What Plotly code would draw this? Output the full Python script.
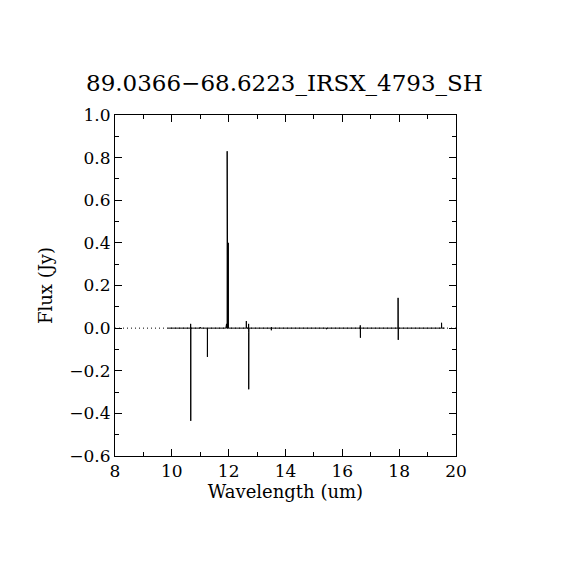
"""
Spectrum plot: IRS SH flux vs wavelength, recreated with Plotly.
"""

import plotly.graph_objects as go

TITLE = '89.0366\u221268.6223_IRSX_4793_SH'

# Spectrum samples (wavelength in um, flux in Jy)
wavelength = [
    9.86, 10.660, 10.662, 10.664, 10.666, 10.668, 10.98, 10.995,
    11.000, 11.005, 11.245, 11.250, 11.252, 11.254, 11.256, 11.90,
    11.902, 11.925, 11.927, 11.945, 11.947, 11.949, 11.965, 11.967,
    11.969, 11.972, 11.974, 11.976, 11.979, 11.981, 11.983, 11.986,
    12.62, 12.622, 12.624, 12.700, 12.702, 12.704, 12.706, 12.710,
    12.712, 13.50, 13.502, 13.504, 13.506, 13.508, 15.44, 15.442,
    15.444, 16.630, 16.632, 16.634, 16.636, 16.638, 17.960, 17.962,
    17.964, 17.966, 17.968, 17.970, 17.972, 19.49, 19.492, 19.494,
    19.496, 19.60,
]
flux = [
    0.0, 0.0, 0.02, 0.0, -0.435, 0.0, 0.0, 0.0,
    0.005, 0.0, 0.0, -0.01, -0.135, -0.01, 0.0, 0.0,
    0.02, 0.02, 0.0, 0.0, 0.83, 0.0, 0.0, 0.40,
    0.0, 0.0, 0.40, 0.0, 0.0, 0.40, 0.0, 0.0,
    0.0, 0.033, 0.0, 0.0, 0.02, -0.02, -0.287, -0.03,
    0.0, 0.0, -0.01, 0.005, -0.005, 0.0, 0.0, -0.005,
    0.0, 0.0, 0.013, 0.0, -0.045, 0.0, 0.0, 0.142,
    0.0, -0.025, -0.055, -0.02, 0.0, 0.0, 0.025, 0.01,
    0.0, 0.0,
]

# Dotted zero reference across the full axis range
zero_x = [8, 20]
zero_y = [0, 0]

FONT = 'DejaVu Serif'

fig = go.Figure()

fig.add_trace(go.Scatter(
    x=zero_x, y=zero_y, mode='lines',
    line=dict(color='black', width=1, dash='1px,3px'),
    hoverinfo='skip'
))

fig.add_trace(go.Scatter(
    x=wavelength, y=flux, mode='lines',
    line=dict(color='black', width=1),
    name='flux'
))

axis_style = dict(
    showline=True, linecolor='black', linewidth=1, mirror='allticks',
    ticks='inside', ticklen=7, tickwidth=1, tickcolor='black',
    showgrid=False, zeroline=False,
    tickfont=dict(family=FONT, size=17, color='black'),
)

fig.update_xaxes(
    range=[8, 20], tick0=8, dtick=2,
    minor=dict(ticks='inside', ticklen=4, dtick=1, tickcolor='black'),
    title=dict(text='Wavelength (um)', font=dict(family=FONT, size=18, color='black'),
               standoff=4),
    **axis_style
)
fig.update_yaxes(
    range=[-0.6, 1.0], tick0=-0.6, dtick=0.2, tickformat='.1f',
    minor=dict(ticks='inside', ticklen=4, dtick=0.1, tickcolor='black'),
    title=dict(text='Flux (Jy)', font=dict(family=FONT, size=18, color='black'),
               standoff=12),
    **axis_style
)

fig.update_layout(
    width=570, height=570,
    margin=dict(l=107, r=122, t=107, b=122),
    paper_bgcolor='white', plot_bgcolor='white',
    showlegend=False,
    title=dict(text=TITLE, x=0.485, xanchor='center', y=0.868, yanchor='middle',
               font=dict(family=FONT, size=23, color='black')),
)

fig.write_html("out.html")
